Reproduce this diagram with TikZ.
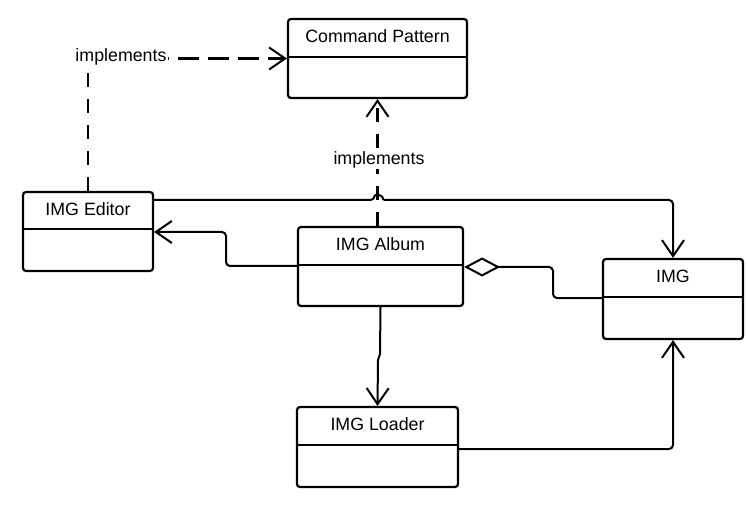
\documentclass[tikz,border=0pt]{standalone}
\usepackage{fontspec}
\setmainfont{Liberation Sans}
\usetikzlibrary{arrows.meta,calc}
\begin{document}
\begin{tikzpicture}[x=1bp,y=-1bp,
  every node/.style={font=\fontsize{17.8bp}{21bp}\selectfont, inner sep=0pt},
  umlbox/.style={draw, line width=2.2bp, rounded corners=3bp, minimum width=#1},
  ttl/.style={},
  lbl/.style={fill=white, inner sep=1bp},
  conn/.style={line width=2bp, rounded corners=4bp},
  open arrow/.style={-{Straight Barb[length=16bp,width=22bp,line width=2bp]}},
  dsh/.style={line width=2.1bp, dash pattern=on 14bp off 12bp},
  dshh/.style={line width=2.1bp, dash pattern=on 21bp off 9bp}
]
\useasboundingbox (0,0) rectangle (747,505);
% boxes
\node[umlbox=179bp, minimum height=79bp] (cp) at (377.5,58.5) {};
\node[umlbox=130bp, minimum height=79bp] (ed) at (88,231.5) {};
\node[umlbox=165bp, minimum height=79bp] (al) at (380.5,266.5) {};
\node[umlbox=140bp, minimum height=80bp] (img) at (673,299) {};
\node[umlbox=161bp, minimum height=80bp] (ld) at (377.5,447) {};
% dividers
\draw[line width=2.2bp] (cp.west |- 0,57) -- (cp.east |- 0,57);
\draw[line width=2.2bp] (ed.west |- 0,229) -- (ed.east |- 0,229);
\draw[line width=2.2bp] (al.west |- 0,265) -- (al.east |- 0,265);
\draw[line width=2.2bp] (img.west |- 0,297) -- (img.east |- 0,297);
\draw[line width=2.2bp] (ld.west |- 0,445) -- (ld.east |- 0,445);
% titles
\node[ttl] (cpt) at (377.5,36.5) {Command Pattern};
\node[ttl] (edt) at (88,209) {IMG Editor};
\node[ttl] (alt) at (380.5,244.5) {IMG Album};
\node[ttl] (imgt) at (673,276.5) {IMG};
\node[ttl] (ldt) at (377.5,424.5) {IMG Loader};
% Editor implements Command Pattern
\coordinate (c1) at (ed.north |- cp.west);
\draw[dsh] (ed.north) -- (c1);
\draw[dshh, open arrow] (c1) -- (cp.west);
\node[lbl] (imp1) at (121,57) {implements};
% Album implements Command Pattern
\coordinate (c2) at (cp.south |- al.north);
\draw[dsh, open arrow] (c2) -- (cp.south);
\node[lbl] (imp2) at (379,160) {implements};
% Editor -> IMG with hop
\coordinate (h1) at (374.5,200);
\coordinate (h2) at (383.5,200);
\draw[conn] (ed.east |- h1) -- (h1) .. controls (374.5,194) and (383.5,194) .. (h2);
\draw[conn, open arrow] (h2) -- (img.north |- h2) -- (img.north);
% Album -> Editor
\coordinate (a1) at (226,266);
\coordinate (a2) at (226,232);
\draw[conn, open arrow] (al.west |- a1) -- (a1) -- (a2) -- (ed.east |- a2);
% Album <>- IMG
\coordinate (d1) at (553,267);
\coordinate (d2) at (553,298);
\draw[conn, {Diamond[open,length=36bp,width=19bp,line width=2bp]}-] (al.east |- d1) -- (d1) -- (d2) -- (img.west |- d2);
% Album -> Loader
\coordinate (l1) at (380,354);
\coordinate (l2) at (378,360);
\draw[line width=2bp, open arrow] (al.south) -- (l1) -- (l2) -- (ld.north);
% Loader -> IMG
\coordinate (m1) at (img.south |- 0,449);
\draw[conn, open arrow] (ld.east |- m1) -- (m1) -- (img.south);
\end{tikzpicture}
\end{document}
